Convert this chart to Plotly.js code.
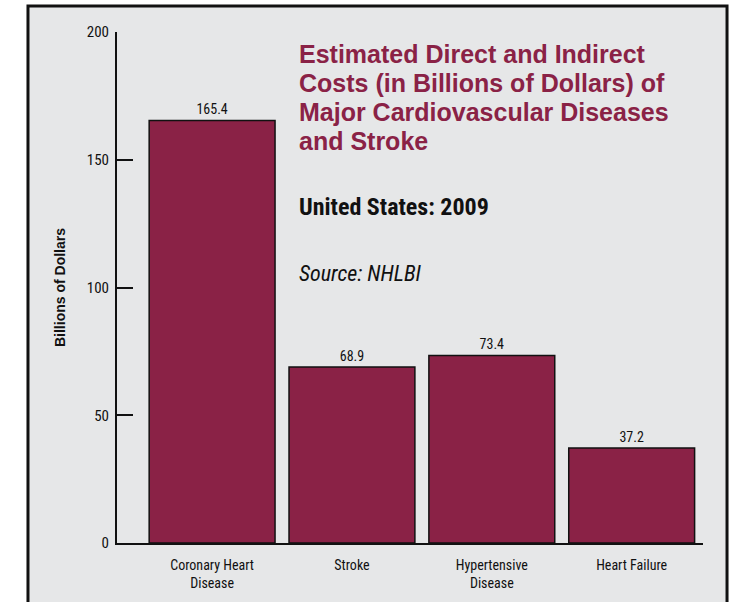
<!DOCTYPE html>
<html><head><meta charset="utf-8">
<script src="https://cdn.plot.ly/plotly-3.0.1.min.js"></script>
<style>html,body{margin:0;padding:0;background:#fff;}#chart{width:729px;height:602px;}</style>
</head><body><div id="chart"></div>
<script>
const categories = ["Coronary Heart<br>Disease", "Stroke", "Hypertensive<br>Disease", "Heart Failure"];
const costs = [165.4, 68.9, 73.4, 37.2];
const costLabels = ["165.4", "68.9", "73.4", "37.2"];
const yTicks = [0, 50, 100, 150, 200];
const titleLines = ["Estimated Direct and Indirect", "Costs (in Billions of Dollars) of", "Major Cardiovascular Diseases", "and Stroke"];
const subtitle = "United States: 2009";
const sourceText = "Source: NHLBI";

const FONT = "'Liberation Sans Narrow', 'Roboto Condensed', 'Liberation Sans', Arial, sans-serif";
const WIDE = "'Liberation Sans', Arial, sans-serif";
const MAROON = "#8a2246";

const trace = {
  type: "bar",
  x: categories,
  y: costs,
  text: costLabels,
  textposition: "outside",
  cliponaxis: false,
  textfont: {family: FONT, size: 14, color: "#111"},
  marker: {color: MAROON, line: {color: "#111", width: 1.5}},
  hoverinfo: "skip"
};

const titleY = [0.9569, 0.9002, 0.8434, 0.7867];
const annotations = titleLines.map((t, i) => ({
  xref: "paper", yref: "paper", x: 0.308, y: titleY[i], xanchor: "left", yanchor: "middle",
  align: "left", showarrow: false, text: "<b>" + t + "</b>",
  font: {family: WIDE, size: 25, color: MAROON}
}));
annotations.push(
  {xref: "paper", yref: "paper", x: 0.308, y: 0.6585, xanchor: "left", yanchor: "middle", align: "left", showarrow: false,
   text: "<b>" + subtitle + "</b>", font: {family: FONT, size: 24, color: "#111"}},
  {xref: "paper", yref: "paper", x: 0.308, y: 0.528, xanchor: "left", yanchor: "middle", align: "left", showarrow: false,
   text: "<i>" + sourceText + "</i>", font: {family: FONT, size: 22, color: "#111"}}
);

const layout = {
  width: 729, height: 602,
  margin: {l: 117, r: 26, t: 32, b: 59},
  paper_bgcolor: "#ffffff",
  plot_bgcolor: "rgba(0,0,0,0)",
  bargap: 0.1,
  showlegend: false,
  font: {family: FONT, color: "#111"},
  xaxis: {
    type: "category",
    range: [-0.68, 3.51],
    showline: true, linecolor: "#111", linewidth: 2,
    ticks: "", showgrid: false, zeroline: false,
    ticklabelstandoff: 8,
    tickfont: {family: FONT, size: 14, color: "#111"},
    fixedrange: true
  },
  yaxis: {
    range: [0, 200],
    tickvals: yTicks,
    ticktext: yTicks.map(String),
    showline: true, linecolor: "#111", linewidth: 2,
    ticks: "inside", ticklen: 16, tickwidth: 2, tickcolor: "#111",
    ticklabelstandoff: 3,
    showgrid: false, zeroline: false,
    tickfont: {family: FONT, size: 15, color: "#111"},
    title: {text: "<b>Billions of Dollars</b>", font: {family: WIDE, size: 14, color: "#111"}, standoff: 18},
    fixedrange: true
  },
  shapes: [{
    type: "rect", xref: "paper", yref: "paper", layer: "below",
    x0: -0.1519, x1: 1.041, y0: -0.14, y1: 1.0509,
    fillcolor: "#e6e7e8", line: {color: "#111", width: 3}
  }],
  annotations: annotations
};

Plotly.newPlot("chart", [trace], layout, {displayModeBar: false, staticPlot: true});
</script></body></html>
